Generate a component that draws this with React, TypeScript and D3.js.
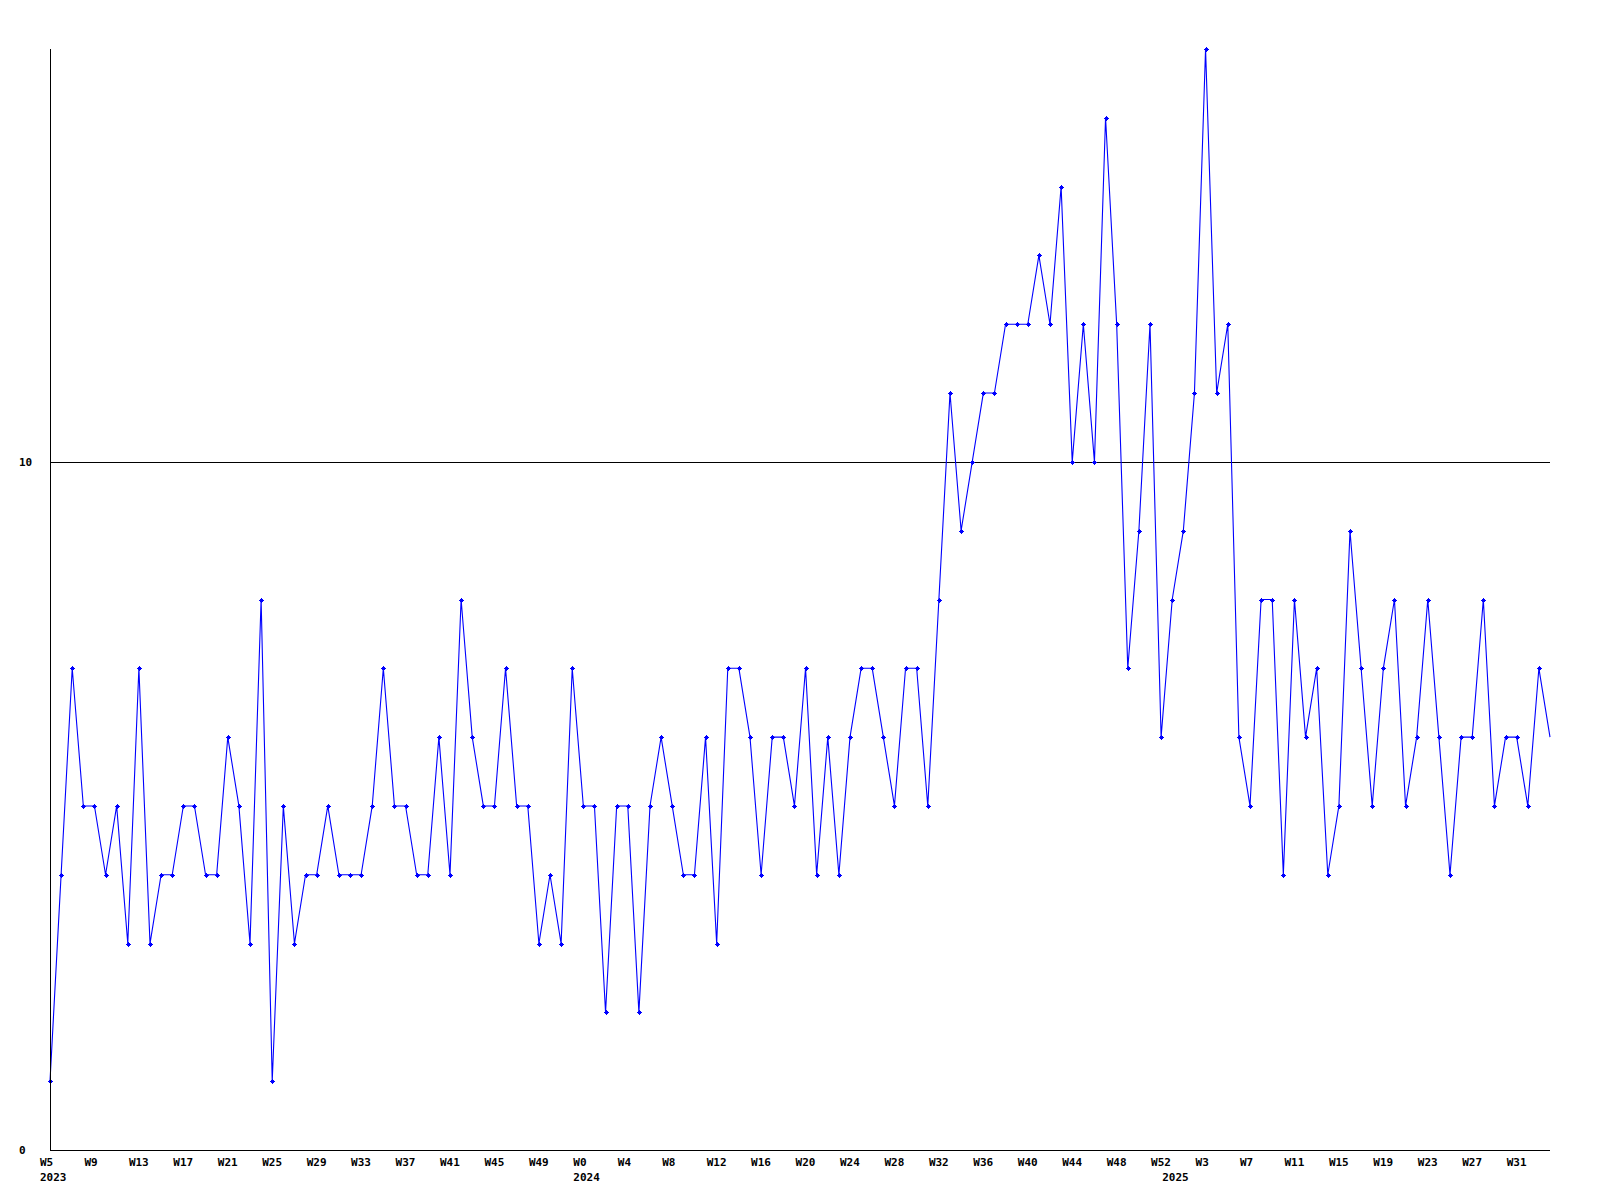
import * as d3 from "d3";

// weekly counts, 2023 W5 .. 2025 W34
const VALUES = [
  1, 4, 7, 5, 5, 4, 5, 3, 7, 3,
  4, 4, 5, 5, 4, 4, 6, 5, 3, 8,
  1, 5, 3, 4, 4, 5, 4, 4, 4, 5,
  7, 5, 5, 4, 4, 6, 4, 8, 6, 5,
  5, 7, 5, 5, 3, 4, 3, 7, 5, 5,
  2, 5, 5, 2, 5, 6, 5, 4, 4, 6,
  3, 7, 7, 6, 4, 6, 6, 5, 7, 4,
  6, 4, 6, 7, 7, 6, 5, 7, 7, 5,
  8, 11, 9, 10, 11, 11, 12, 12, 12, 13,
  12, 14, 10, 12, 10, 15, 12, 7, 9, 12,
  6, 8, 9, 11, 16, 11, 12, 6, 5, 8,
  8, 4, 8, 6, 7, 4, 5, 9, 7, 5,
  7, 8, 5, 6, 8, 6, 4, 6, 6, 8,
  5, 6, 6, 5, 7, 6,
];

// one label every 4th week
const WEEK_TICKS = [
  "W5", "W9", "W13", "W17", "W21", "W25", "W29", "W33", "W37", "W41", "W45", "W49",
  "W0", "W4", "W8", "W12", "W16", "W20", "W24", "W28", "W32", "W36", "W40", "W44", "W48", "W52",
  "W3", "W7", "W11", "W15", "W19", "W23", "W27", "W31",
];
const TICK_STEP = 4;

const YEAR_LABELS: [string, number][] = [
  ["2023", 0],
  ["2024", 48],
  ["2025", 101],
];

const Y_TICKS = [0, 10];
const Y_MAX = 16;

const W = 1600;
const H = 1200;
const left = 50;
const right = 1550;
const bottom = 1150;
const top = 49;

const FONT = "'DejaVu Sans Mono', monospace";

export default function App() {
  const x = d3.scaleLinear().domain([0, VALUES.length - 1]).range([left, right]);
  const y = d3.scaleLinear().domain([0, Y_MAX]).range([bottom, top]);

  const line = d3
    .line<number>()
    .x((_, i) => x(i))
    .y((d) => y(d));

  // small "+" marker, 5px across
  const marker = "M-2.5,-0.5h5v1h-5z M-0.5,-2.5h1v5h-1z M-1.5,-1.5h3v3h-3z";

  return (
    <svg
      width={W}
      height={H}
      style={{ position: "absolute", left: 0, top: 0, background: "#fff" }}
    >
      <rect width={W} height={H} fill="#fff" />

      {/* reference line at 10 */}
      <line
        x1={left}
        x2={right}
        y1={Math.round(y(10)) + 0.5}
        y2={Math.round(y(10)) + 0.5}
        stroke="#000"
        shapeRendering="crispEdges"
      />

      <path d={line(VALUES) ?? ""} fill="none" stroke="#0000ff" strokeWidth={1.1} />
      {VALUES.slice(0, -1).map((v, i) => (
        <path
          key={i}
          d={marker}
          transform={`translate(${Math.round(x(i)) + 0.5},${Math.round(y(v)) + 0.5})`}
          fill="#0000ff"
          shapeRendering="crispEdges"
        />
      ))}

      {/* axes */}
      <line
        x1={left + 0.5}
        x2={left + 0.5}
        y1={top}
        y2={bottom + 0.5}
        stroke="#000"
        shapeRendering="crispEdges"
      />
      <line
        x1={left}
        x2={right}
        y1={bottom + 0.5}
        y2={bottom + 0.5}
        stroke="#000"
        shapeRendering="crispEdges"
      />

      <g fontFamily={FONT} fontSize={11} fontWeight="bold" fill="#000">
        {Y_TICKS.map((t) => (
          <text key={t} x={19} y={y(t) + 4}>
            {t}
          </text>
        ))}
        {WEEK_TICKS.map((label, i) => (
          <text key={label + i} x={x(i * TICK_STEP) - 10} y={1166}>
            {label}
          </text>
        ))}
        {YEAR_LABELS.map(([label, idx]) => (
          <text key={label} x={x(idx) - 10} y={1181}>
            {label}
          </text>
        ))}
      </g>
    </svg>
  );
}
